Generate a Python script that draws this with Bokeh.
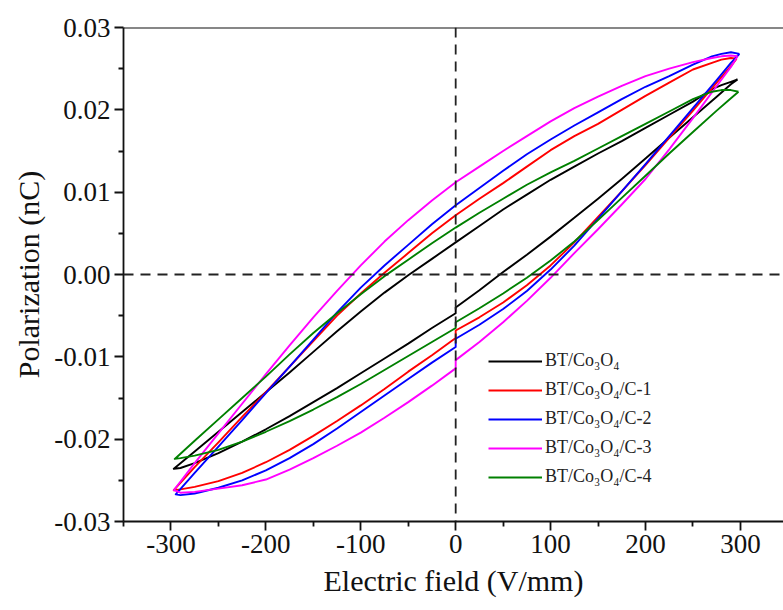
from bokeh.plotting import figure
from bokeh.models import Span, Legend, LegendItem, FixedTicker, PrintfTickFormatter
from bokeh.embed import file_html
from bokeh.resources import INLINE

# ---- tick definitions ----
X_TICKS = [-300, -200, -100, 0, 100, 200, 300]
X_MINOR = [-350, -250, -150, -50, 50, 150, 250, 350]
Y_TICKS = [-0.03, -0.02, -0.01, 0.0, 0.01, 0.02, 0.03]
Y_MINOR = [-0.025, -0.015, -0.005, 0.005, 0.015, 0.025]

# ---- series (loop: upper branch from +tip to -tip, then lower branch back) ----
names = ["BT/Co₃O₄", "BT/Co₃O₄/C-1", "BT/Co₃O₄/C-2", "BT/Co₃O₄/C-3", "BT/Co₃O₄/C-4"]
colors = ["#000000", "#ff0000", "#0000ff", "#ff00ff", "#008000"]

black_up_E = [297, 290, 280, 270, 250, 225, 200, 175, 150, 125, 100, 75, 50, 25, 0, -25, -50, -75, -100, -125, -150, -175, -200, -225, -250, -275, -297]
black_up_P = [0.0237, 0.0234, 0.0230, 0.0225, 0.0210, 0.0194, 0.0178, 0.0162, 0.0147, 0.0131, 0.0115, 0.0097, 0.0079, 0.0059, 0.0039, 0.0019, -0.0001, -0.0022, -0.0045, -0.0069, -0.0094, -0.0119, -0.0143, -0.0167, -0.0191, -0.0215, -0.0236]
black_lo_E = [-297, -290, -275, -250, -225, -200, -175, -150, -125, -100, -75, -50, -25, 0, 0, 25, 50, 75, 100, 125, 150, 175, 200, 225, 250, 275, 290, 297]
black_lo_P = [-0.0236, -0.0235, -0.0229, -0.0217, -0.0203, -0.0188, -0.0172, -0.0155, -0.0138, -0.0120, -0.0102, -0.0084, -0.0065, -0.0047, -0.0040, -0.0019, 0.0003, 0.0024, 0.0046, 0.0069, 0.0092, 0.0116, 0.0141, 0.0166, 0.0191, 0.0216, 0.0231, 0.0237]

red_up_E = [296, 290, 280, 270, 250, 225, 200, 175, 150, 125, 100, 75, 50, 25, 0, -25, -50, -75, -100, -125, -150, -175, -200, -225, -250, -275, -297]
red_up_P = [0.0262, 0.0263, 0.0261, 0.0257, 0.0249, 0.0233, 0.0217, 0.0200, 0.0183, 0.0168, 0.0151, 0.0131, 0.0111, 0.0092, 0.0072, 0.0050, 0.0026, 0.0002, -0.0023, -0.0050, -0.0081, -0.0112, -0.0143, -0.0173, -0.0204, -0.0234, -0.0262]
red_lo_E = [-297, -290, -275, -250, -225, -200, -175, -150, -125, -100, -75, -50, -25, 0, 0, 25, 50, 75, 100, 125, 150, 175, 200, 225, 250, 275, 290, 296]
red_lo_P = [-0.0262, -0.0261, -0.0258, -0.0251, -0.0241, -0.0228, -0.0213, -0.0196, -0.0178, -0.0159, -0.0139, -0.0118, -0.0098, -0.0077, -0.0068, -0.0052, -0.0034, -0.0013, 0.0011, 0.0039, 0.0070, 0.0101, 0.0133, 0.0166, 0.0199, 0.0233, 0.0253, 0.0262]

blue_up_E = [299, 290, 280, 270, 250, 225, 200, 175, 150, 125, 100, 75, 50, 25, 0, -25, -50, -75, -100, -125, -150, -175, -200, -225, -250, -275, -295]
blue_up_P = [0.0268, 0.0270, 0.0268, 0.0265, 0.0255, 0.0241, 0.0228, 0.0213, 0.0197, 0.0181, 0.0164, 0.0146, 0.0126, 0.0105, 0.0084, 0.0061, 0.0036, 0.0011, -0.0016, -0.0046, -0.0079, -0.0112, -0.0144, -0.0177, -0.0209, -0.0241, -0.0267]
blue_lo_E = [-295, -290, -275, -250, -225, -200, -175, -150, -125, -100, -75, -50, -25, 0, 0, 25, 50, 75, 100, 125, 150, 175, 200, 225, 250, 275, 290, 299]
blue_lo_P = [-0.0267, -0.0268, -0.0266, -0.0259, -0.0250, -0.0238, -0.0223, -0.0206, -0.0187, -0.0167, -0.0147, -0.0127, -0.0107, -0.0088, -0.0078, -0.0061, -0.0042, -0.0020, 0.0006, 0.0035, 0.0068, 0.0101, 0.0134, 0.0168, 0.0202, 0.0236, 0.0257, 0.0268]

magenta_up_E = [297, 290, 280, 270, 250, 225, 200, 175, 150, 125, 100, 75, 50, 25, 0, -25, -50, -75, -100, -125, -150, -175, -200, -225, -250, -275, -297]
magenta_up_P = [0.0265, 0.0266, 0.0265, 0.0263, 0.0258, 0.0250, 0.0241, 0.0229, 0.0216, 0.0202, 0.0186, 0.0168, 0.0150, 0.0131, 0.0112, 0.0090, 0.0066, 0.0040, 0.0011, -0.0020, -0.0052, -0.0086, -0.0121, -0.0157, -0.0193, -0.0229, -0.0262]
magenta_lo_E = [-297, -290, -275, -250, -225, -200, -175, -150, -125, -100, -75, -50, -25, 0, 0, 25, 50, 75, 100, 125, 150, 175, 200, 225, 250, 275, 290, 297]
magenta_lo_P = [-0.0262, -0.0265, -0.0264, -0.0260, -0.0256, -0.0249, -0.0237, -0.0223, -0.0208, -0.0192, -0.0174, -0.0155, -0.0135, -0.0114, -0.0104, -0.0082, -0.0058, -0.0032, -0.0004, 0.0026, 0.0055, 0.0085, 0.0116, 0.0152, 0.0190, 0.0229, 0.0252, 0.0265]

green_up_E = [298, 290, 280, 270, 250, 225, 200, 175, 150, 125, 100, 75, 50, 25, 0, -25, -50, -75, -100, -125, -150, -175, -200, -225, -250, -275, -296]
green_up_P = [0.0222, 0.0224, 0.0224, 0.0222, 0.0213, 0.0198, 0.0183, 0.0168, 0.0153, 0.0138, 0.0124, 0.0109, 0.0092, 0.0075, 0.0057, 0.0038, 0.0018, -0.0002, -0.0024, -0.0047, -0.0071, -0.0097, -0.0124, -0.0150, -0.0176, -0.0202, -0.0224]
green_lo_E = [-296, -290, -275, -250, -225, -200, -175, -150, -125, -100, -75, -50, -25, 0, 0, 25, 50, 75, 100, 125, 150, 175, 200, 225, 250, 275, 290, 298]
green_lo_P = [-0.0224, -0.0223, -0.0220, -0.0213, -0.0203, -0.0191, -0.0178, -0.0164, -0.0149, -0.0133, -0.0116, -0.0099, -0.0082, -0.0065, -0.0058, -0.0041, -0.0023, -0.0004, 0.0017, 0.0040, 0.0066, 0.0093, 0.0120, 0.0147, 0.0173, 0.0199, 0.0214, 0.0222]

series = [
    (black_up_E + black_lo_E, black_up_P + black_lo_P),
    (red_up_E + red_lo_E, red_up_P + red_lo_P),
    (blue_up_E + blue_lo_E, blue_up_P + blue_lo_P),
    (magenta_up_E + magenta_lo_E, magenta_up_P + magenta_lo_P),
    (green_up_E + green_lo_E, green_up_P + green_lo_P),
]

FONT = "'Liberation Serif', 'Times New Roman', serif"

p = figure(width=783, height=610, x_range=(-350, 345.4), y_range=(-0.03, 0.03),
           output_backend="svg", toolbar_location=None,
           min_border_left=123, min_border_right=0, min_border_top=27, min_border_bottom=89)
p.background_fill_color = "white"
p.border_fill_color = "white"
p.outline_line_color = None
p.xgrid.visible = False
p.ygrid.visible = False

for ax in (p.xaxis[0], p.yaxis[0]):
    ax.axis_line_width = 1.8
    ax.axis_line_color = "#111111"
    ax.major_tick_line_width = 1.8
    ax.minor_tick_line_width = 1.8
    ax.major_tick_line_color = "#111111"
    ax.minor_tick_line_color = "#111111"
    ax.major_tick_out = 9
    ax.major_tick_in = 0
    ax.minor_tick_out = 5
    ax.minor_tick_in = 0
    ax.major_label_text_font = FONT
    ax.major_label_text_font_size = "27px"
    ax.major_label_text_color = "#111111"
    ax.axis_label_text_font = FONT
    ax.axis_label_text_font_size = "30px"
    ax.axis_label_text_font_style = "normal"
    ax.axis_label_text_color = "#111111"
    ax.major_label_standoff = 4

p.xaxis.ticker = FixedTicker(ticks=X_TICKS, minor_ticks=X_MINOR)
p.yaxis.ticker = FixedTicker(ticks=Y_TICKS, minor_ticks=Y_MINOR)
p.xaxis.formatter = PrintfTickFormatter(format="%d")
p.yaxis.formatter = PrintfTickFormatter(format="%.2f")
p.xaxis.axis_label = "Electric field (V/mm)"
p.yaxis.axis_label = "Polarization (nC)"
p.xaxis.axis_label_standoff = 8
p.yaxis.axis_label_standoff = 6

# top frame line
p.add_layout(Span(location=0.03, dimension="width", line_color="#111111", line_width=2))
# dashed zero lines
p.add_layout(Span(location=0, dimension="width", line_color="#222222", line_width=1.8, line_dash="10 7"))
p.add_layout(Span(location=0, dimension="height", line_color="#222222", line_width=1.8, line_dash="10 7"))

items = []
for (E, P), name, c in zip(series, names, colors):
    r = p.line(E, P, line_color=c, line_width=1.9, line_join="round")
    items.append(LegendItem(label=name, renderers=[r]))

legend = Legend(items=items, location=(365, 34), border_line_color=None,
                background_fill_alpha=0, label_text_font=FONT, label_text_font_size="18px",
                label_text_color="#222222", glyph_width=54, glyph_height=20, label_height=20,
                spacing=8, padding=0, margin=0, label_standoff=3)
p.add_layout(legend)

open("out.html", "w").write(file_html(p, INLINE))
